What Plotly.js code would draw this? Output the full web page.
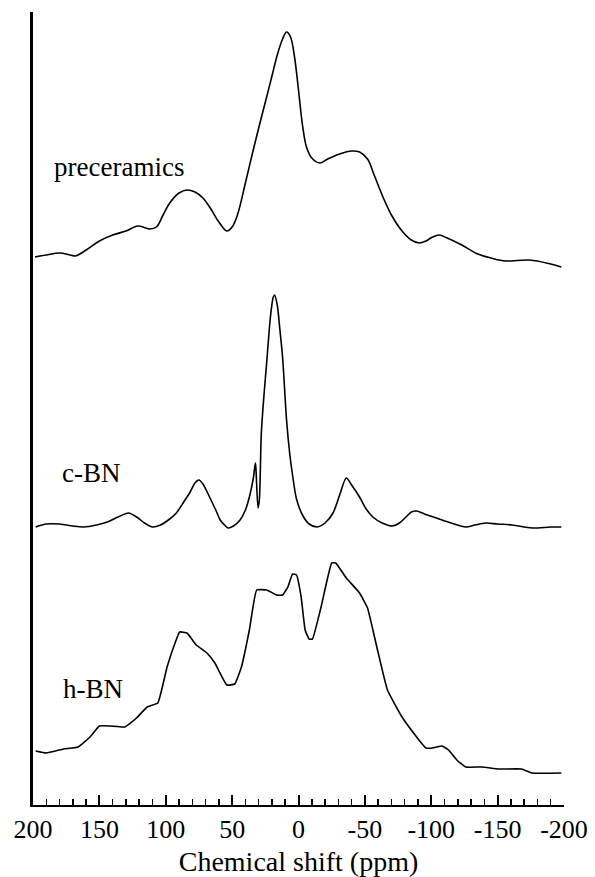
<!DOCTYPE html>
<html>
<head>
<meta charset="utf-8">
<script src="https://cdn.plot.ly/plotly-3.0.1.min.js"></script>
<style>html,body{margin:0;padding:0;background:#fff;}#chart{width:595px;height:877px;}</style>
</head>
<body>
<div id="chart"></div>
<script>
// Chemical shift (ppm) and stacked intensities (arbitrary units)
const preceramicsShift = [198.5,190,180,172,168,160,150,140,130,121,115,112,107,102,97,90,84,78,72,66,60,54,50,46,40,35,30,24,20,16,12,9,6,3,0,-3,-6,-10,-16,-22,-31,-40,-46,-52,-57,-63,-70,-78,-85,-91,-96,-101,-106,-112,-123,-135,-145,-156,-174,-190,-198];
const preceramicsInt   = [548,550,552,550,549,555,564,570,574,579,577,576,578,590,602,612,615,613,607,596,583,574,578,590,622,650,677,708,729,750,766,773,768,748,715,680,658,647,642,646,651,654,653,646,630,610,590,574,565,562,564,568,570,567,560,551,547,544,545,541,538];

const cbnShift = [198,190,180,170,162,152,144,136,128,122,116,110,104,97,92,86,82,78,75,72,67,62,59,55,53,49,44,40,37,34,32.5,32,30.5,29.5,28,26,24,21,19,18,16,14,12,9,6.5,4.5,1.5,-3,-8,-14,-20,-26,-31,-36,-40,-46,-51,-56,-63,-71,-76,-81,-85,-89,-95,-104,-115,-126,-133,-141,-150,-161,-176,-190,-198];
const cbnInt   = [278,281,281,279,278,280,283,288,292,288,282,278,280,286,292,304,312,322,325,321,308,294,285,279,277,279,285,295,308,327,342,335,297,305,372,410,442,490,508,510,500,475,448,385,350,330,306,290,281,278,282,292,310,327,320,308,296,288,282,279,282,288,293,294,291,287,282,278,280,282,281,280,277,278,278];

const hbnShift = [198,190,177,166,157,150,142,131,122,114,106,99,93,89.5,84,77,69,63,54,48,43,37,31.5,24,16.5,12,8,4.5,1.5,-2,-5,-8,-10.5,-17,-25,-28,-36,-46,-52,-59,-67,-78,-89,-96,-101,-108,-113,-120,-126,-138,-151,-168,-176,-198];
const hbnInt   = [54,52,56,58,68,79,79,78,87,98,102,138,162,173,172,160,152,142,120,121,138,175,215,215,210,210,218,231,230,208,175,166,166,198,242,242,227,212,197,158,115,88,68,57,57,59,55,44,38,38,36,36,32,32];

const sampleLabels = ["preceramics","c-BN","h-BN"];
const tickValues = [200,150,100,50,0,-50,-100,-150,-200];
const tickLabels = ["200","150","100","50","0","-50","-100","-150","-200"];

const traces = [
  {x:preceramicsShift, y:preceramicsInt, mode:'lines', line:{color:'#000', width:1.6, shape:'spline', smoothing:1.0}, name:sampleLabels[0]},
  {x:cbnShift, y:cbnInt, mode:'lines', line:{color:'#000', width:1.6, shape:'spline', smoothing:0.8}, name:sampleLabels[1]},
  {x:hbnShift, y:hbnInt, mode:'lines', line:{color:'#000', width:1.6, shape:'spline', smoothing:0.35}, name:sampleLabels[2]}
];

const serif = '"Liberation Serif", "Times New Roman", serif';
const layout = {
  width:595, height:877,
  margin:{l:33, r:31, t:12, b:72},
  paper_bgcolor:'#fff', plot_bgcolor:'#fff',
  showlegend:false,
  font:{family:serif, color:'#000'},
  xaxis:{
    range:[200,-200], autorange:false,
    tickmode:'array', tickvals:tickValues, ticktext:tickLabels,
    ticks:'inside', ticklen:10, tickwidth:2, tickcolor:'#000',
    minor:{dtick:10, ticks:'inside', ticklen:6, tickwidth:1.5, tickcolor:'#000', showgrid:false},
    showline:true, linewidth:2, linecolor:'#000',
    showgrid:false, zeroline:false,
    tickfont:{family:serif, size:26, color:'#000'},
    title:{text:'Chemical shift (ppm)', font:{family:serif, size:28, color:'#000'}, standoff:8},
    automargin:false
  },
  yaxis:{
    range:[0,793], autorange:false,
    showline:true, linewidth:3, linecolor:'#000',
    ticks:'', showticklabels:false, showgrid:false, zeroline:false
  },
  annotations:[
    {x:186, y:638, xref:'x', yref:'y', text:sampleLabels[0], showarrow:false, xanchor:'left', yanchor:'middle', font:{family:serif, size:27, color:'#000'}},
    {x:180, y:332, xref:'x', yref:'y', text:sampleLabels[1], showarrow:false, xanchor:'left', yanchor:'middle', font:{family:serif, size:27, color:'#000'}},
    {x:179, y:116, xref:'x', yref:'y', text:sampleLabels[2], showarrow:false, xanchor:'left', yanchor:'middle', font:{family:serif, size:27, color:'#000'}}
  ]
};

Plotly.newPlot('chart', traces, layout, {staticPlot:true, displayModeBar:false});
</script>
</body>
</html>
